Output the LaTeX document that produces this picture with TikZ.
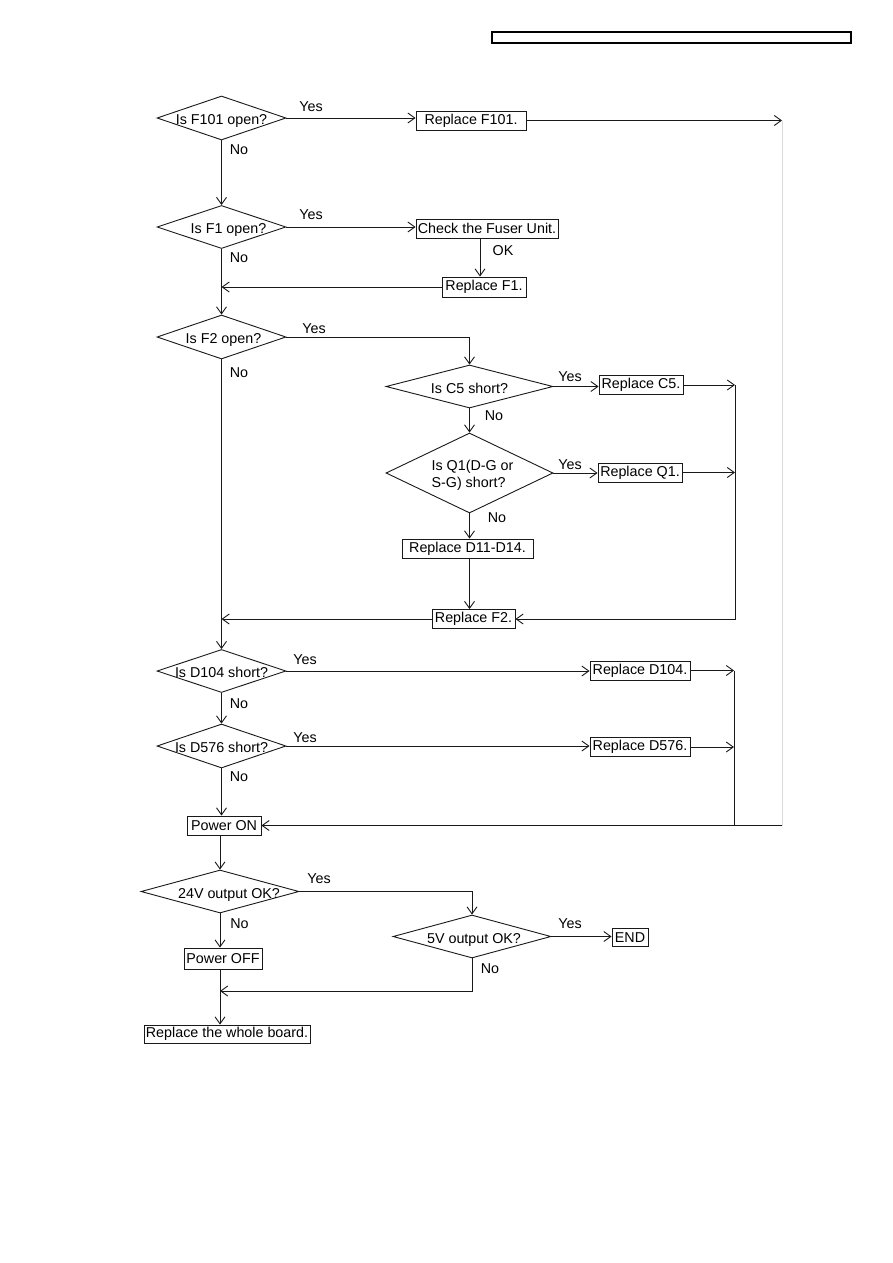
\documentclass[tikz,border=0pt]{standalone}
\usepackage{fontspec}
\setmainfont{Liberation Sans}
\usetikzlibrary{shapes.geometric,arrows.meta}
\newcommand\dlab[2][0pt]{\raisebox{-6.5pt}[0pt][0pt]{\makebox[0pt]{\hspace*{#1}#2}}}
\tikzset{
  dec/.style={draw=black!90, shape=diamond, inner sep=0pt, line width=0.9pt},
  box/.style={draw=black!90, rectangle, inner sep=0pt, line width=0.9pt},
  arr/.style={draw=black!90, line width=0.9pt, -{Straight Barb[length=7pt,width=10pt]}},
  ln/.style={draw=black!90, line width=0.9pt},
  faint/.style={draw=black!15, line width=0.7pt},
  lab/.style={inner sep=0pt},
}
\begin{document}
\begin{tikzpicture}[x=1pt,y=-1pt,font=\fontsize{14.3}{17}\selectfont]
\useasboundingbox[fill=white] (0,0) rectangle (893,1263);
% header box
\node[draw=black, line width=1.2pt, minimum width=359pt, minimum height=11pt, inner sep=0pt] (hdr) at (671.5,37.5) {};

% decisions
\node[dec, minimum width=129pt, minimum height=44pt] (d1) at (221.5,118) {\dlab{Is F101 open?}};
\node[dec, minimum width=129pt, minimum height=43pt] (d2) at (221.5,227) {\dlab[14pt]{Is F1 open?}};
\node[dec, minimum width=129pt, minimum height=44pt] (d3) at (221.5,337) {\dlab[4pt]{Is F2 open?}};
\node[dec, minimum width=167pt, minimum height=43pt] (d4) at (469.5,386.5) {\dlab{Is C5 short?}};
\node[dec, minimum width=167pt, minimum height=80pt] (d5) at (469.5,473) {\raisebox{-6pt}[0pt][0pt]{\makebox[0pt]{\hspace*{6pt}\begin{tabular}{@{}l@{}}Is Q1(D-G or\\S-G) short?\end{tabular}}}};
\node[dec, minimum width=129pt, minimum height=43pt] (d6) at (221.5,671) {\dlab{Is D104 short?}};
\node[dec, minimum width=129pt, minimum height=44pt] (d7) at (221.5,746) {\dlab{Is D576 short?}};
\node[dec, minimum width=158pt, minimum height=43pt] (d8) at (220,891.5) {\dlab[18pt]{24V output OK?}};
\node[dec, minimum width=158pt, minimum height=43pt] (d9) at (472,936.5) {\dlab[4pt]{5V output OK?}};

% boxes
\node[box, minimum width=110pt, minimum height=19pt] (b1) at (471,120.5) {Replace F101.};
\node[box, minimum width=142pt, minimum height=19pt] (b2) at (487,228.5) {Check the Fuser Unit.};
\node[box, minimum width=84pt, minimum height=20pt] (b3) at (484,287) {Replace F1.};
\node[box, minimum width=84pt, minimum height=19pt] (b4) at (641,385) {Replace C5.};
\node[box, minimum width=84pt, minimum height=19pt] (b5) at (640,472.5) {Replace Q1.};
\node[box, minimum width=131pt, minimum height=19pt] (b6) at (467.5,548.5) {Replace D11-D14.};
\node[box, minimum width=83pt, minimum height=19pt] (b7) at (473.5,619) {Replace F2.};
\node[box, minimum width=100pt, minimum height=19pt] (b8) at (640,670.5) {Replace D104.};
\node[box, minimum width=100pt, minimum height=19pt] (b9) at (640,747) {Replace D576.};
\node[box, minimum width=74pt, minimum height=19pt] (pon) at (224,825.5) {Power ON};
\node[box, minimum width=36pt, minimum height=18pt] (end) at (630,937.5) {END};
\node[box, minimum width=78pt, minimum height=21pt] (poff) at (223,958.5) {Power OFF};
\node[box, minimum width=166pt, minimum height=18pt] (brd) at (227,1034) {Replace the whole board.};

% helper coordinates
\coordinate (ok) at (480,0);
\coordinate (c1) at (735,0);
\coordinate (c2) at (734,0);
\coordinate (r) at (782,0);
\coordinate (j) at (0,991);

% connectors
\draw[arr] (d1.east) -- (b1.west |- d1.east);
\draw[arr] (b1.east) -- (b1.east -| r);
\draw[faint] (b1.east -| r) -- (pon.east -| r);
\draw[arr] (pon.east -| r) -- (pon.east);
\draw[arr] (d1.south) -- (d2.north);
\draw[arr] (d2.east) -- (b2.west |- d2.east);
\draw[arr] (b2.south -| ok) -- (b3.north -| ok);
\draw[arr] (b3.west) -- (b3.west -| d2.south);
\draw[arr] (d2.south) -- (d3.north);
\draw[arr] (d3.east) -| (d4.north);
\draw[arr] (d3.south) -- (d6.north);
\draw[arr] (d4.east) -- (b4.west |- d4.east);
\draw[arr] (b4.east) -- (b4.east -| c1);
\draw[arr] (d4.south) -- (d5.north);
\draw[arr] (d5.east) -- (b5.west |- d5.east);
\draw[arr] (b5.east) -- (b5.east -| c1);
\draw[arr] (d5.south) -- (d5.south |- b6.north);
\draw[arr] (d5.south |- b6.south) -- (d5.south |- b7.north);
\draw[arr] (b4.east -| c1) |- (b7.east);
\draw[arr] (b7.west) -- (b7.west -| d3.south);
\draw[arr] (d6.east) -- (b8.west |- d6.east);
\draw[arr] (b8.east) -- (b8.east -| c2);
\draw[arr] (d6.south) -- (d7.north);
\draw[arr] (d7.east) -- (b9.west |- d7.east);
\draw[arr] (b9.east) -- (b9.east -| c2);
\draw[ln] (b8.east -| c2) -- (pon.east -| c2);
\draw[arr] (d7.south) -- (d7.south |- pon.north);
\draw[arr] (pon.south -| d8.north) -- (d8.north);
\draw[arr] (d8.east) -| (d9.north);
\draw[arr] (d9.east) -- (end.west |- d9.east);
\draw[arr] (d8.south) -- (d8.south |- poff.north);
\draw[arr] (d9.south) |- (j -| d8.south);
\draw[arr] (poff.south -| d8.south) -- (brd.north -| d8.south);

% labels
\node[lab] (y1) at (311,107) {Yes};
\node[lab] (n1) at (239,150) {No};
\node[lab] (y2) at (311,215) {Yes};
\node[lab] (okl) at (503,251) {OK};
\node[lab] (n2) at (239,258) {No};
\node[lab] (y3) at (314,329) {Yes};
\node[lab] (n3) at (239,373) {No};
\node[lab] (y4) at (570,377) {Yes};
\node[lab] (n4) at (494,416) {No};
\node[lab] (y5) at (570,465) {Yes};
\node[lab] (n5) at (497,518) {No};
\node[lab] (y6) at (305,660) {Yes};
\node[lab] (n6) at (239,704) {No};
\node[lab] (y7) at (305,738) {Yes};
\node[lab] (n7) at (239,777) {No};
\node[lab] (y8) at (319,879) {Yes};
\node[lab] (n8) at (239.5,924) {No};
\node[lab] (y9) at (570,924) {Yes};
\node[lab] (n9) at (490,969) {No};
\end{tikzpicture}
\end{document}
